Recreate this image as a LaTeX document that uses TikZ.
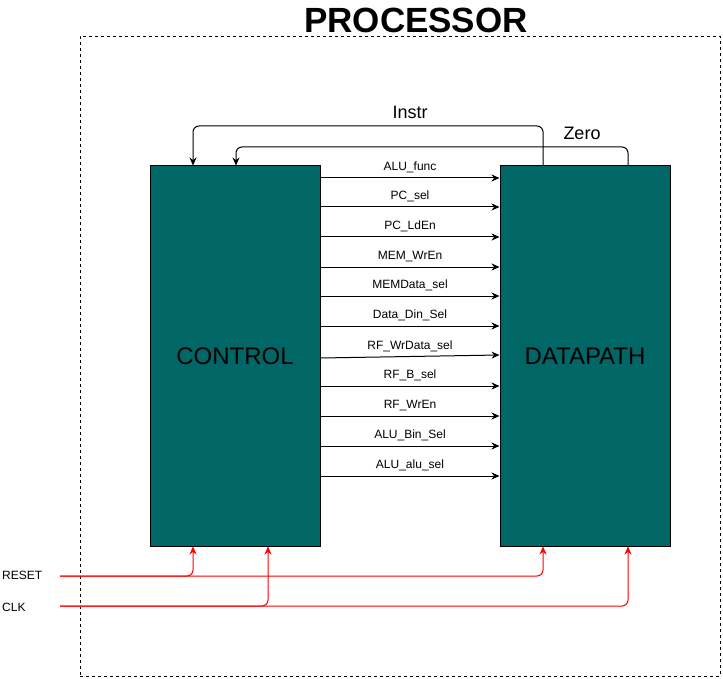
\documentclass[tikz,border=0pt]{standalone}
\usepackage{fontspec}
\setmainfont{Liberation Sans}
\usetikzlibrary{arrows.meta,calc}
\definecolor{tealc}{HTML}{006666}
\tikzset{
  blk/.style={draw=black, line width=1pt, fill=tealc, minimum width=170pt, minimum height=380pt, inner sep=0pt, font=\fontsize{24}{28}\selectfont},
  sig/.style={draw=black, line width=1pt, -{Stealth[length=8pt,width=7pt]}},
  rsig/.style={draw=red, line width=1pt, rounded corners=6pt, -{Stealth[length=8pt,width=7pt]}},
  lbl/.style={font=\fontsize{12}{14}\selectfont, inner sep=0pt},
  big/.style={font=\fontsize{18}{21}\selectfont, inner sep=0pt},
}
\begin{document}
\begin{tikzpicture}[x=1pt,y=-1pt]
\useasboundingbox (0,0) rectangle (723,679);
\node[draw=black, dashed, line width=0.8pt, minimum width=640pt, minimum height=640pt, inner sep=0pt] (frame) at (400,356) {};
\node[font=\fontsize{35}{38}\bfseries, inner sep=0pt] (title) at (416,20) {PROCESSOR};
\node[blk] (ctrl) at (235,356) {CONTROL};
\node[blk] (dp) at (585,356) {DATAPATH};
\foreach \y/\t in {178/ALU\_func, 207/PC\_sel, 237/PC\_LdEn, 267/MEM\_WrEn, 296/MEMData\_sel, 326/Data\_Din\_Sel, 386/RF\_B\_sel, 416/RF\_WrEn, 446/ALU\_Bin\_Sel, 476/ALU\_alu\_sel}{
  \draw[sig] (ctrl.east |- 0,\y) -- (dp.west |- 0,\y) node[lbl, midway, above=4.5pt] {\t};
}
\draw[sig] (ctrl.east |- 0,358) -- (dp.west |- 0,355) node[lbl, midway, above=4.5pt] {RF\_WrData\_sel};
\draw[sig, rounded corners=6pt] (dp.north -| 543,0) |- (193,126) -- (ctrl.north -| 193,0);
\node[big] (instr) at (410,112) {Instr};
\draw[sig, rounded corners=6pt] (dp.north -| 628,0) |- (236,147) -- (ctrl.north -| 236,0);
\node[big] (zero) at (582,133) {Zero};
\node[lbl, anchor=west] (reset) at (2,575) {RESET};
\node[lbl, anchor=west] (clk) at (2,607) {CLK};
\coordinate (rs) at (60,576);
\coordinate (ck) at (60,606);
\draw[rsig] (rs) -| (ctrl.south -| 193,0);
\draw[rsig] (rs) -| (dp.south -| 543,0);
\draw[rsig] (ck) -| (ctrl.south -| 268,0);
\draw[rsig] (ck) -| (dp.south -| 628,0);
\end{tikzpicture}
\end{document}
